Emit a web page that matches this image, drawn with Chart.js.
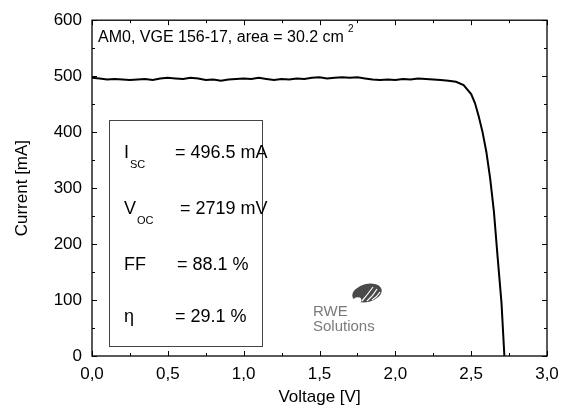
<!DOCTYPE html>
<html>
<head>
<meta charset="utf-8">
<script src="https://cdn.jsdelivr.net/npm/chart.js@4/dist/chart.umd.min.js"></script>
<style>
  html, body { margin: 0; padding: 0; background: #fff; }
  #wrap { width: 570px; height: 414px; position: relative; }
</style>
</head>
<body>
<div id="wrap"><canvas id="ivChart" width="570" height="414"></canvas></div>
<script>
// I-V curve
const voltage = [
    0.00, 0.05, 0.10, 0.15, 0.20, 0.25, 0.30, 0.35, 0.40, 0.45,
    0.50, 0.55, 0.60, 0.65, 0.70, 0.75, 0.80, 0.85, 0.90, 0.95,
    1.00, 1.05, 1.10, 1.15, 1.20, 1.25, 1.30, 1.35, 1.40, 1.45,
    1.50, 1.55, 1.60, 1.65, 1.70, 1.75, 1.80, 1.85, 1.90, 1.95,
    2.00, 2.05, 2.10, 2.15, 2.20, 2.25, 2.30, 2.35, 2.40, 2.45,
    2.50, 2.525, 2.55, 2.575, 2.60, 2.625, 2.65, 2.675, 2.70, 2.719
];
const current = [
    497, 496, 494, 495, 494, 493, 494, 495, 493, 496,
    497, 496, 495, 497, 496, 493, 494, 492, 494, 495,
    496, 495, 497, 495, 493, 495, 494, 496, 495, 497,
    498, 496, 497, 498, 497, 498, 496, 494, 493, 494,
    493, 495, 494, 496, 495, 494, 493, 492, 490, 484,
    468, 452, 428, 400, 365, 318, 258, 175, 95, 0
];

const xTicks = [0, 0.5, 1.0, 1.5, 2.0, 2.5, 3.0];
const yTicks = [0, 100, 200, 300, 400, 500, 600];

const infoLabels = [
    { main: 'I', sub: 'SC', value: '= 496.5 mA' },
    { main: 'V', sub: 'OC', value: '= 2719 mV' },
    { main: 'FF', sub: '', value: '= 88.1 %' },
    { main: '\u03b7', sub: '', value: '= 29.1 %' }
];

const FONT = "'Liberation Sans', Arial, sans-serif";

const framePlugin = {
    id: 'frame',
    afterDraw(chart) {
        const ctx = chart.ctx;
        const a = chart.chartArea;
        const xs = chart.scales.x;
        const ys = chart.scales.y;
        ctx.save();

        // frame
        ctx.strokeStyle = '#000';
        ctx.lineWidth = 1.3;
        ctx.strokeRect(a.left, a.top, a.right - a.left, a.bottom - a.top);

        // inward ticks on all four sides
        ctx.lineWidth = 1;
        ctx.beginPath();
        for (let v = 0; v <= 3.0001; v += 0.25) {
            const px = Math.round(xs.getPixelForValue(v)) + 0.5;
            const len = Math.abs(v * 2 - Math.round(v * 2)) < 1e-6 ? 5 : 3;
            ctx.moveTo(px, a.bottom); ctx.lineTo(px, a.bottom - len);
            ctx.moveTo(px, a.top); ctx.lineTo(px, a.top + len);
        }
        for (let v = 0; v <= 600; v += 50) {
            const py = Math.round(ys.getPixelForValue(v)) + 0.5;
            const len = v % 100 === 0 ? 5 : 3;
            ctx.moveTo(a.left, py); ctx.lineTo(a.left + len, py);
            ctx.moveTo(a.right, py); ctx.lineTo(a.right - len, py);
        }
        ctx.stroke();

        // axis titles
        ctx.fillStyle = '#000';
        ctx.font = '17px ' + FONT;
        ctx.textAlign = 'center';
        ctx.textBaseline = 'middle';
        ctx.fillText('Voltage [V]', (a.left + a.right) / 2, 397);
        ctx.save();
        ctx.translate(22, (a.top + a.bottom) / 2);
        ctx.rotate(-Math.PI / 2);
        ctx.fillText('Current [mA]', 0, 0);
        ctx.restore();

        // header note
        ctx.textAlign = 'left';
        ctx.textBaseline = 'alphabetic';
        ctx.font = '16px ' + FONT;
        ctx.fillText('AM0, VGE 156-17, area = 30.2 cm', a.left + 6, 42);
        const w = ctx.measureText('AM0, VGE 156-17, area = 30.2 cm').width;
        ctx.font = '10px ' + FONT;
        ctx.fillText('2', a.left + 6 + w + 4, 32);

        // parameter box
        ctx.strokeStyle = '#444';
        ctx.lineWidth = 1;
        ctx.strokeRect(109.5, 120.5, 153, 226);
        const baselines = [158, 214, 270, 322];
        const valueX = [175, 180, 177, 175];
        infoLabels.forEach((row, i) => {
            ctx.font = '18px ' + FONT;
            ctx.fillText(row.main, 124, baselines[i]);
            const mw = ctx.measureText(row.main).width;
            if (row.sub) {
                ctx.font = '11px ' + FONT;
                ctx.fillText(row.sub, 124 + mw + 1, baselines[i] + 10);
            }
            ctx.font = '18px ' + FONT;
            ctx.fillText(row.value, valueX[i], baselines[i]);
        });

        // logo
        ctx.fillStyle = '#4a4a4a';
        ctx.beginPath();
        ctx.ellipse(367, 293, 15, 9, -0.25, 0, Math.PI * 2);
        ctx.fill();
        ctx.fillStyle = '#fff';
        ctx.beginPath();
        ctx.ellipse(356, 302, 6, 4, -0.6, 0, Math.PI * 2);
        ctx.fill();
        ctx.strokeStyle = '#fff';
        ctx.lineWidth = 1.2;
        ctx.beginPath();
        ctx.moveTo(362, 301); ctx.quadraticCurveTo(368, 294, 373, 287);
        ctx.moveTo(367, 301); ctx.quadraticCurveTo(373, 296, 377, 289);
        ctx.moveTo(372, 300); ctx.quadraticCurveTo(377, 297, 380, 292);
        ctx.stroke();
        ctx.fillStyle = '#7a7a7a';
        ctx.font = '15px ' + FONT;
        ctx.fillText('RWE', 313, 316);
        ctx.fillText('Solutions', 313, 331);

        ctx.restore();
    }
};

const ctx = document.getElementById('ivChart').getContext('2d');
window.ivChart = new Chart(ctx, {
    type: 'scatter',
    data: {
        datasets: [{
            data: voltage.map((v, i) => ({ x: v, y: current[i] })),
            showLine: true,
            borderColor: '#000',
            borderWidth: 2,
            pointRadius: 0,
            tension: 0
        }]
    },
    options: {
        responsive: false,
        animation: false,
        events: [],
        layout: { padding: { left: 0, top: 18, right: 23, bottom: 0 } },
        plugins: { legend: { display: false }, tooltip: { enabled: false } },
        scales: {
            x: {
                type: 'linear',
                min: 0,
                max: 3,
                afterBuildTicks: s => { s.ticks = xTicks.map(v => ({ value: v })); },
                afterFit: s => { s.height = 58; },
                grid: { display: false, drawTicks: false },
                border: { display: false },
                ticks: {
                    padding: 8,
                    color: '#000',
                    font: { family: FONT, size: 17 },
                    callback: v => v.toFixed(1).replace('.', ',')
                }
            },
            y: {
                type: 'linear',
                min: 0,
                max: 600,
                afterBuildTicks: s => { s.ticks = yTicks.map(v => ({ value: v })); },
                afterFit: s => { s.width = 92; },
                grid: { display: false, drawTicks: false },
                border: { display: false },
                ticks: {
                    padding: 10,
                    color: '#000',
                    font: { family: FONT, size: 17 },
                    callback: v => String(v)
                }
            }
        }
    },
    plugins: [framePlugin]
});
</script>
</body>
</html>
